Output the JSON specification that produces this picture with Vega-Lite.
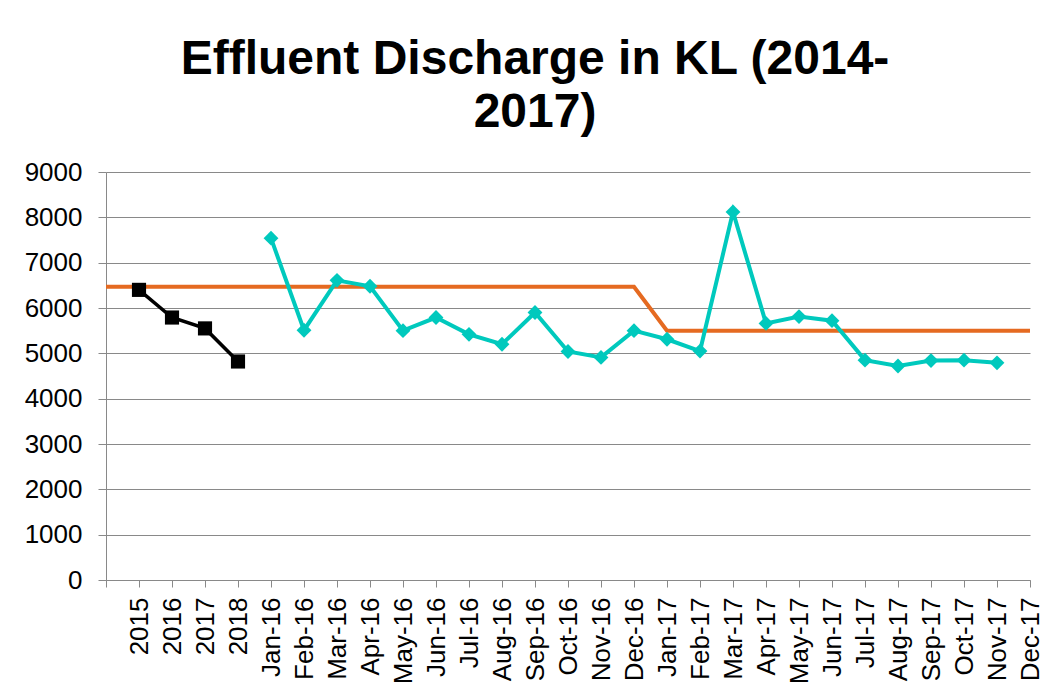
{
  "$schema": "https://vega.github.io/schema/vega-lite/v6.json",
  "width": 924,
  "height": 408,
  "autosize": {"type": "none"},
  "padding": {"left": 106, "top": 172, "right": 16, "bottom": 117},
  "background": "white",
  "config": {"view": {"stroke": null}, "font": "Liberation Sans"},
  "title": {
    "text": ["Effluent Discharge in KL (2014-", "2017)"],
    "font": "Liberation Sans",
    "fontSize": 48,
    "fontWeight": "bold",
    "color": "#000000",
    "anchor": "middle",
    "frame": "group",
    "dx": -33,
    "lineHeight": 53,
    "offset": 22
  },
  "data": {
    "values": [
      {"cat": " ", "series": "Target", "value": 6470},
      {"cat": "2015", "series": "Target", "value": 6470},
      {"cat": "2016", "series": "Target", "value": 6470},
      {"cat": "2017", "series": "Target", "value": 6470},
      {"cat": "2018", "series": "Target", "value": 6470},
      {"cat": "Jan-16", "series": "Target", "value": 6470},
      {"cat": "Feb-16", "series": "Target", "value": 6470},
      {"cat": "Mar-16", "series": "Target", "value": 6470},
      {"cat": "Apr-16", "series": "Target", "value": 6470},
      {"cat": "May-16", "series": "Target", "value": 6470},
      {"cat": "Jun-16", "series": "Target", "value": 6470},
      {"cat": "Jul-16", "series": "Target", "value": 6470},
      {"cat": "Aug-16", "series": "Target", "value": 6470},
      {"cat": "Sep-16", "series": "Target", "value": 6470},
      {"cat": "Oct-16", "series": "Target", "value": 6470},
      {"cat": "Nov-16", "series": "Target", "value": 6470},
      {"cat": "Dec-16", "series": "Target", "value": 6470},
      {"cat": "Jan-17", "series": "Target", "value": 5500},
      {"cat": "Feb-17", "series": "Target", "value": 5500},
      {"cat": "Mar-17", "series": "Target", "value": 5500},
      {"cat": "Apr-17", "series": "Target", "value": 5500},
      {"cat": "May-17", "series": "Target", "value": 5500},
      {"cat": "Jun-17", "series": "Target", "value": 5500},
      {"cat": "Jul-17", "series": "Target", "value": 5500},
      {"cat": "Aug-17", "series": "Target", "value": 5500},
      {"cat": "Sep-17", "series": "Target", "value": 5500},
      {"cat": "Oct-17", "series": "Target", "value": 5500},
      {"cat": "Nov-17", "series": "Target", "value": 5500},
      {"cat": "Dec-17", "series": "Target", "value": 5500},
      {"cat": "2015", "series": "Annual", "value": 6400},
      {"cat": "2016", "series": "Annual", "value": 5790},
      {"cat": "2017", "series": "Annual", "value": 5550},
      {"cat": "2018", "series": "Annual", "value": 4820},
      {"cat": "Jan-16", "series": "Monthly", "value": 7540},
      {"cat": "Feb-16", "series": "Monthly", "value": 5510},
      {"cat": "Mar-16", "series": "Monthly", "value": 6610},
      {"cat": "Apr-16", "series": "Monthly", "value": 6480},
      {"cat": "May-16", "series": "Monthly", "value": 5500},
      {"cat": "Jun-16", "series": "Monthly", "value": 5790},
      {"cat": "Jul-16", "series": "Monthly", "value": 5420},
      {"cat": "Aug-16", "series": "Monthly", "value": 5200},
      {"cat": "Sep-16", "series": "Monthly", "value": 5900},
      {"cat": "Oct-16", "series": "Monthly", "value": 5040},
      {"cat": "Nov-16", "series": "Monthly", "value": 4910},
      {"cat": "Dec-16", "series": "Monthly", "value": 5500},
      {"cat": "Jan-17", "series": "Monthly", "value": 5310},
      {"cat": "Feb-17", "series": "Monthly", "value": 5050},
      {"cat": "Mar-17", "series": "Monthly", "value": 8120},
      {"cat": "Apr-17", "series": "Monthly", "value": 5660},
      {"cat": "May-17", "series": "Monthly", "value": 5810},
      {"cat": "Jun-17", "series": "Monthly", "value": 5720},
      {"cat": "Jul-17", "series": "Monthly", "value": 4850},
      {"cat": "Aug-17", "series": "Monthly", "value": 4720},
      {"cat": "Sep-17", "series": "Monthly", "value": 4840},
      {"cat": "Oct-17", "series": "Monthly", "value": 4850},
      {"cat": "Nov-17", "series": "Monthly", "value": 4790}
    ]
  },
  "encoding": {
    "x": {
      "field": "cat",
      "type": "ordinal",
      "sort": [" ", "2015", "2016", "2017", "2018", "Jan-16", "Feb-16", "Mar-16", "Apr-16", "May-16", "Jun-16", "Jul-16", "Aug-16", "Sep-16", "Oct-16", "Nov-16", "Dec-16", "Jan-17", "Feb-17", "Mar-17", "Apr-17", "May-17", "Jun-17", "Jul-17", "Aug-17", "Sep-17", "Oct-17", "Nov-17", "Dec-17"],
      "scale": {
        "type": "point",
        "padding": 0,
        "domain": [" ", "2015", "2016", "2017", "2018", "Jan-16", "Feb-16", "Mar-16", "Apr-16", "May-16", "Jun-16", "Jul-16", "Aug-16", "Sep-16", "Oct-16", "Nov-16", "Dec-16", "Jan-17", "Feb-17", "Mar-17", "Apr-17", "May-17", "Jun-17", "Jul-17", "Aug-17", "Sep-17", "Oct-17", "Nov-17", "Dec-17"]
      },
      "axis": {
        "title": null,
        "labelAngle": 270,
        "labelFontSize": 26,
        "labelColor": "#000000",
        "labelFont": "Liberation Sans",
        "tickSize": 7,
        "labelPadding": 10,
        "domainColor": "#898989",
        "tickColor": "#898989",
        "grid": false
      }
    },
    "y": {
      "field": "value",
      "type": "quantitative",
      "scale": {"domain": [0, 9000], "nice": false, "zero": true},
      "axis": {
        "title": null,
        "values": [0, 1000, 2000, 3000, 4000, 5000, 6000, 7000, 8000, 9000],
        "format": "d",
        "labelFontSize": 26,
        "labelColor": "#000000",
        "labelFont": "Liberation Sans",
        "tickSize": 8,
        "labelPadding": 16,
        "domainColor": "#898989",
        "tickColor": "#898989",
        "grid": true,
        "gridColor": "#898989",
        "gridWidth": 1
      }
    },
    "color": {
      "field": "series",
      "type": "nominal",
      "scale": {"domain": ["Target", "Annual", "Monthly"], "range": ["#E56A21", "#000000", "#00C9BD"]},
      "legend": null
    }
  },
  "layer": [
    {
      "transform": [{"filter": "datum.series === 'Target'"}],
      "mark": {"type": "line", "strokeWidth": 4}
    },
    {
      "transform": [{"filter": "datum.series === 'Annual'"}],
      "mark": {"type": "line", "strokeWidth": 3.5, "point": {"shape": "square", "size": 200, "filled": true, "opacity": 1}}
    },
    {
      "transform": [{"filter": "datum.series === 'Monthly'"}],
      "mark": {"type": "line", "strokeWidth": 4, "point": {"shape": "diamond", "size": 220, "filled": true, "opacity": 1}}
    }
  ]
}
